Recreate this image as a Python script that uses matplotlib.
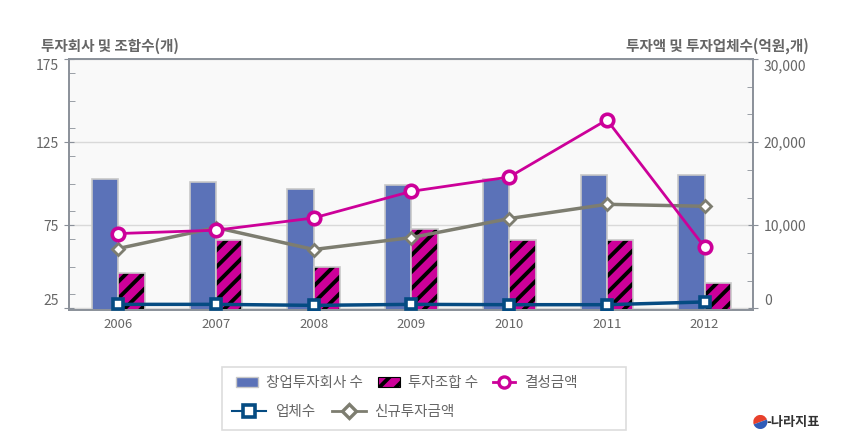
import numpy as np
import matplotlib
matplotlib.use("Agg")
import matplotlib.pyplot as plt
from matplotlib.ticker import MultipleLocator, FuncFormatter
from matplotlib.lines import Line2D
from matplotlib.patches import Patch, Rectangle, Wedge

plt.rcParams['font.family'] = ['Noto Sans CJK KR', 'DejaVu Sans']
plt.rcParams['hatch.linewidth'] = 2.8

# data
years = ['2006', '2007', '2008', '2009', '2010', '2011', '2012']
vc_firms = [103, 101, 97, 99, 103, 105, 105]          # 창업투자회사 수 (left)
funds = [46, 66, 50, 73, 66, 66, 40]                  # 투자조합 수 (left)
fund_amount = [9000, 9400, 10880, 14080, 15800, 22680, 7360]   # 결성금액 (right)
companies = [480, 480, 360, 480, 440, 440, 770]       # 업체수 (right)
new_invest = [7200, 9720, 7080, 8520, 10800, 12520, 12280]    # 신규투자금액 (right)

left_title = '투자회사 및 조합수(개)'
right_title = '투자액 및 투자업체수(억원,개)'

c_blue = '#5b72b8'
c_mag = '#cc0099'
c_navy = '#054b82'
c_gray = '#7d7d70'
c_txt = '#666666'
c_spine = '#8a9099'

fig = plt.figure(figsize=(8.63, 4.43), dpi=100)
ax = fig.add_axes([0.0805, 0.3002, 0.7926, 0.5666])
ax.set_facecolor('#f9f9f9')
ax2 = ax.twinx()

x = np.arange(len(years))
w = 0.27
ymin = 24
ax.bar(x - w / 2, np.array(vc_firms) - ymin, w, bottom=ymin, color=c_blue,
       edgecolor='#c8c8c8', linewidth=1.2, zorder=2)
ax.bar(x + w / 2, np.array(funds) - ymin, w, bottom=ymin, color=c_mag,
       edgecolor='black', linewidth=0, hatch='//', zorder=2)
ax.bar(x + w / 2, np.array(funds) - ymin, w, bottom=ymin, color='none',
       edgecolor='#c8c8c8', linewidth=1.2, zorder=3)

ax.set_xlim(-0.5, len(years) - 0.5)
ax.set_ylim(ymin, 175)
ax.set_yticks([25, 75, 125, 175])
ax.yaxis.set_minor_locator(MultipleLocator(50 / 3))
ax.set_xticks(x)
ax.set_xticklabels(years)
ax.grid(axis='y', color='#d9d9d9', linewidth=1, zorder=0)
ax.set_axisbelow(True)

ax2.set_ylim(-200, 30000)
ax2.set_yticks([0, 10000, 20000, 30000])
ax2.yaxis.set_minor_locator(MultipleLocator(10000 / 3))
ax2.yaxis.set_major_formatter(FuncFormatter(lambda v, p: '{:,.0f}'.format(v)))

ax2.plot(x, new_invest, color=c_gray, lw=2.5, marker='D', ms=6,
         mfc='white', mec=c_gray, mew=2, zorder=4)
ax2.plot(x, fund_amount, color=c_mag, lw=2, marker='o', ms=9,
         mfc='white', mec=c_mag, mew=2.6, zorder=5)
ax2.plot(x, companies, color=c_navy, lw=2.5, marker='s', ms=7.5,
         mfc='white', mec=c_navy, mew=2.6, zorder=6)

for a in (ax, ax2):
    for s in a.spines.values():
        s.set_color(c_spine)
        s.set_linewidth(1.2)
    a.tick_params(axis='y', which='major', direction='inout', length=7,
                  color=c_spine, labelcolor=c_txt, labelsize=10, pad=4)
    a.tick_params(axis='y', which='minor', direction='in', length=4,
                  color=c_spine)
ax.tick_params(axis='x', length=0, labelcolor=c_txt, labelsize=9.5, pad=6)

# end labels sit inside the axis range like in the reference
fig.canvas.draw()
for a in (ax, ax2):
    labels = a.get_yticklabels()
    labels[0].set_va('bottom')
    labels[-1].set_va('top')

fig.text(0.048, 0.897, left_title, color=c_txt, fontsize=10.5,
         fontweight='bold', ha='left', va='center')
fig.text(0.937, 0.897, right_title, color=c_txt, fontsize=10.5,
         fontweight='bold', ha='right', va='center')

# legend in two rows inside a single frame
h1 = Patch(facecolor=c_blue, edgecolor='#c8c8c8')
h2 = Patch(facecolor=c_mag, edgecolor='black', hatch='//', linewidth=0.8)
h3 = Line2D([], [], color=c_mag, lw=2, marker='o', ms=8, mfc='white',
            mec=c_mag, mew=2.4)
h4 = Line2D([], [], color=c_navy, lw=1.5, marker='s', ms=8, mfc='white',
            mec=c_navy, mew=2.6)
h5 = Line2D([], [], color=c_gray, lw=2, marker='D', ms=7, mfc='white',
            mec=c_gray, mew=2.4)

fig.patches.append(Rectangle((0.257, 0.029), 0.468, 0.142,
                             transform=fig.transFigure, facecolor='white',
                             edgecolor='#dddddd', linewidth=1.2))
leg1 = fig.legend([h1, h2, h3], ['창업투자회사 수', '투자조합 수', '결성금액'],
                  loc='center left', bbox_to_anchor=(0.258, 0.135), ncol=3,
                  frameon=False, fontsize=10.5, handlelength=1.5,
                  handletextpad=0.6, columnspacing=1.0, labelcolor=c_txt)
leg2 = fig.legend([h4, h5], ['업체수', '신규투자금액'],
                  loc='center left', bbox_to_anchor=(0.254, 0.069), ncol=2,
                  frameon=False, fontsize=10.5, handlelength=2.3,
                  handletextpad=0.6, columnspacing=1.2, labelcolor=c_txt)

# small logo
lax = fig.add_axes([0.872, 0.030, 0.018, 0.035])
lax.set_aspect('equal')
lax.add_patch(Wedge((0, 0), 1, 20, 200, facecolor='#e8412c'))
lax.add_patch(Wedge((0, 0), 1, 200, 380, facecolor='#2f5cb8'))
lax.set_xlim(-1.1, 1.1)
lax.set_ylim(-1.1, 1.1)
lax.axis('off')
fig.text(0.888, 0.048, '-나라지표', color='#333333', fontsize=9.5,
         fontweight='bold', ha='left', va='center')

fig.savefig('out.png', dpi=100)
